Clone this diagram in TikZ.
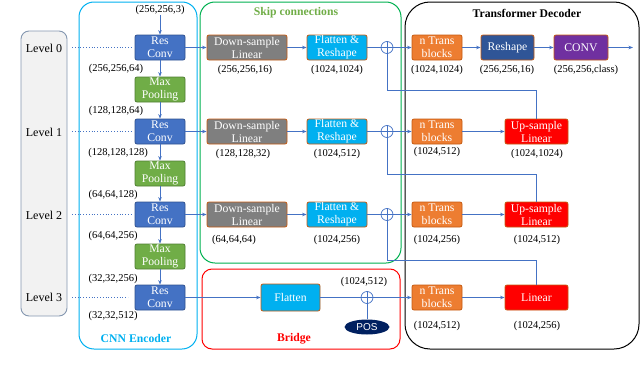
\documentclass[tikz,border=0pt]{standalone}
\usepackage{fontspec}
\setmainfont{Liberation Serif}
\newfontfamily\possans{Liberation Sans}
\usetikzlibrary{arrows.meta,calc,shapes.geometric}
\definecolor{lvlfill}{HTML}{F2F2F2}
\definecolor{lvldraw}{HTML}{8497B0}
\definecolor{cnncol}{HTML}{00B0F0}
\definecolor{skipcol}{HTML}{00B050}
\definecolor{skiptxt}{HTML}{70AD47}
\definecolor{linecol}{HTML}{4472C4}
\definecolor{rcfill}{HTML}{4472C4}
\definecolor{rcdraw}{HTML}{2F528F}
\definecolor{mpfill}{HTML}{70AD47}
\definecolor{mpdraw}{HTML}{507E32}
\definecolor{bordbrown}{HTML}{C55A11}
\definecolor{dsfill}{HTML}{7F7F7F}
\definecolor{flfill}{HTML}{00B0F0}
\definecolor{ntfill}{HTML}{ED7D31}
\definecolor{rsfill}{HTML}{2F5597}
\definecolor{cvfill}{HTML}{7030A0}
\definecolor{posfill}{HTML}{002060}
\begin{document}
\begin{tikzpicture}[x=1pt,y=-1pt,
  blk/.style={rounded corners=2pt, line width=0.8pt, text=white, align=center, inner sep=0pt,
    minimum height=25pt, font=\fontsize{11.7}{13}\selectfont},
  rc/.style={blk, draw=rcdraw, fill=rcfill, minimum width=50pt},
  mp/.style={blk, draw=mpdraw, fill=mpfill, minimum width=50pt},
  ds/.style={blk, draw=bordbrown, fill=dsfill, minimum width=80pt},
  fr/.style={blk, draw=bordbrown, fill=flfill, minimum width=60pt},
  nt/.style={blk, draw=bordbrown, fill=ntfill, minimum width=50pt},
  rs/.style={blk, draw=bordbrown, fill=rsfill, minimum width=53pt},
  cv/.style={blk, draw=bordbrown, fill=cvfill, minimum width=54pt},
  up/.style={blk, draw=bordbrown, fill=red, minimum width=63pt},
  dim/.style={font=\fontsize{10.5}{12}\selectfont, inner sep=0pt},
  lvl/.style={font=\fontsize{12}{14}\selectfont, inner sep=0pt},
  ttl/.style={font=\bfseries\fontsize{11.7}{13}\selectfont, inner sep=0pt},
  conn/.style={draw=linecol, line width=0.7pt},
  arr/.style={conn, -{Stealth[length=4.5pt,width=3.5pt]}},
  dots/.style={draw=linecol, line width=0.8pt, dotted},
  plus/.style={circle, draw=linecol, line width=0.7pt, minimum size=12pt, inner sep=0pt}
]
\useasboundingbox (0,0) rectangle (640,372);

% containers
\draw[draw=lvldraw, fill=lvlfill, line width=0.9pt, rounded corners=8pt] (21,31) rectangle (67,316);
\draw[draw=cnncol, line width=1pt, rounded corners=15pt] (79,2) rectangle (197,349);
\draw[draw=skipcol, line width=1pt, rounded corners=15pt] (200,2) rectangle (401,263);
\draw[draw=red, line width=1pt, rounded corners=10pt] (202,269) rectangle (400,349);
\draw[draw=black, line width=1pt, rounded corners=25pt] (405,2) rectangle (639,349);

\node[ttl, text=cnncol] (tcnn) at (136,338) {CNN Encoder};
\node[ttl, text=skiptxt] (tskip) at (296,13) {Skip connections};
\node[ttl, text=red] (tbr) at (294,339) {Bridge};
\node[ttl] (tdec) at (527,13) {Transformer Decoder};

% levels
\node[lvl] (L0) at (44,48) {Level 0};
\node[lvl] (L1) at (44,132) {Level 1};
\node[lvl] (L2) at (44,215) {Level 2};
\node[lvl] (L3) at (44,297) {Level 3};

% encoder
\node[rc] (rc0) at (160,47.5) {Res\\Conv};
\node[mp] (mp0) at (160,89.5) {Max\\Pooling};
\node[rc] (rc1) at (160,131.5) {Res\\Conv};
\node[mp] (mp1) at (160,173.5) {Max\\Pooling};
\node[rc] (rc2) at (160,214.5) {Res\\Conv};
\node[mp] (mp2) at (160,256.5) {Max\\Pooling};
\node[rc] (rc3) at (160,297.5) {Res\\Conv};

\node[dim] (din) at (160,10) {(256,256,3)};
\node[dim] (e0) at (116,69) {(256,256,64)};
\node[dim] (e1) at (116,111) {(128,128,64)};
\node[dim] (e2) at (118,153) {(128,128,128)};
\node[dim] (e3) at (113,195) {(64,64,128)};
\node[dim] (e4) at (113,236) {(64,64,256)};
\node[dim] (e5) at (113,279) {(32,32,256)};
\node[dim] (e6) at (113,316) {(32,32,512)};

\draw[arr] (din) -- (rc0);
\draw[arr] (rc0) -- (mp0);
\draw[arr] (mp0) -- (rc1);
\draw[arr] (rc1) -- (mp1);
\draw[arr] (mp1) -- (rc2);
\draw[arr] (rc2) -- (mp2);
\draw[arr] (mp2) -- (rc3);

% dotted level links
\coordinate (ds0) at (72,47.5);  \coordinate (de0) at (131,47.5);
\coordinate (ds1) at (72,131.5); \coordinate (de1) at (131,131.5);
\coordinate (ds2) at (72,214.5); \coordinate (de2) at (131,214.5);
\coordinate (ds3) at (72,297.5); \coordinate (de3) at (128,297.5);
\draw[dots] (ds0) -- (de0);
\draw[dots] (ds1) -- (de1);
\draw[dots] (ds2) -- (de2);
\draw[dots] (ds3) -- (de3);

% skip connections
\node[ds] (dl0) at (247,47.5) {Down-sample\\Linear};
\node[ds] (dl1) at (247,131.5) {Down-sample\\Linear};
\node[ds] (dl2) at (247,214.5) {Down-sample\\Linear};
\node[fr] (fr0) at (337,47.5) {Flatten \&\\Reshape};
\node[fr] (fr1) at (337,131.5) {Flatten \&\\Reshape};
\node[fr] (fr2) at (337,214.5) {Flatten \&\\Reshape};
\node[plus] (p0) at (387,47.5) {};
\node[plus] (p1) at (387,131.5) {};
\node[plus] (p2) at (387,214.5) {};
\node[dim] (s0) at (245,70) {(256,256,16)};
\node[dim] (s1) at (243,154) {(128,128,32)};
\node[dim] (s2) at (234,240) {(64,64,64)};
\node[dim] (f0) at (337,70) {(1024,1024)};
\node[dim] (f1) at (337,154) {(1024,512)};
\node[dim] (f2) at (337,240) {(1024,256)};

\draw[arr] (rc0) -- (dl0);
\draw[arr] (rc1) -- (dl1);
\draw[arr] (rc2) -- (dl2);
\draw[arr] (dl0) -- (fr0);
\draw[arr] (dl1) -- (fr1);
\draw[arr] (dl2) -- (fr2);
\draw[conn] (fr0) -- (p0);
\draw[conn] (fr1) -- (p1);
\draw[conn] (fr2) -- (p2);

% bridge
\node[blk, draw=bordbrown, fill=flfill, minimum width=59pt, minimum height=27pt] (fl) at (290.5,297.5) {Flatten};
\node[plus] (p3) at (367,297.5) {};
\node[dim] (b0) at (364,282) {(1024,512)};
\node[ellipse, fill=posfill, minimum width=45pt, minimum height=15pt, inner sep=0pt, text=white, font=\possans\fontsize{10}{12}\selectfont] (pos) at (367,327) {POS};
\draw[arr] (rc3) -- (fl);
\draw[conn] (fl) -- (p3);
\draw[conn] (pos) -- (p3);

\foreach \p in {p0,p1,p2,p3}{
  \draw[conn] (\p.north) -- (\p.south);
  \draw[conn] (\p.west) -- (\p.east);
}

% decoder
\node[nt] (nt0) at (437,47.5) {n Trans\\blocks};
\node[nt] (nt1) at (437,131.5) {n Trans\\blocks};
\node[nt] (nt2) at (437,214.5) {n Trans\\blocks};
\node[nt] (nt3) at (437,297.5) {n Trans\\blocks};
\node[rs] (rs) at (507.5,47.5) {Reshape};
\node[cv] (cv) at (581,47.5) {CONV};
\node[up] (up1) at (536.5,131.5) {Up-sample\\Linear};
\node[up] (up2) at (536.5,214.5) {Up-sample\\Linear};
\node[up] (lin) at (536.5,297.5) {Linear};
\coordinate (out) at (633,47.5);

\node[dim] (n0) at (437,70) {(1024,1024)};
\node[dim] (n1) at (437,152) {(1024,512)};
\node[dim] (n2) at (437,240) {(1024,256)};
\node[dim] (n3) at (437,326) {(1024,512)};
\node[dim] (r0) at (507,70) {(256,256,16)};
\node[dim] (c0) at (586,70) {(256,256,class)};
\node[dim] (u1) at (537,154) {(1024,1024)};
\node[dim] (u2) at (537,240) {(1024,512)};
\node[dim] (u3) at (537,326) {(1024,256)};

\draw[arr] (p0) -- (nt0);
\draw[arr] (p1) -- (nt1);
\draw[arr] (p2) -- (nt2);
\draw[arr] (p3) -- (nt3);
\draw[arr] (nt0) -- (rs);
\draw[arr] (rs) -- (cv);
\draw[arr] (cv) -- (out);
\draw[arr] (nt1) -- (up1);
\draw[arr] (nt2) -- (up2);
\draw[arr] (nt3) -- (lin);

\draw[conn] (p0.south) -- ++(0,36) -| (up1.north);
\draw[conn] (p1.south) -- ++(0,36) -| (up2.north);
\draw[conn] (p2.south) -- ++(0,39) -| (lin.north);
\end{tikzpicture}
\end{document}
